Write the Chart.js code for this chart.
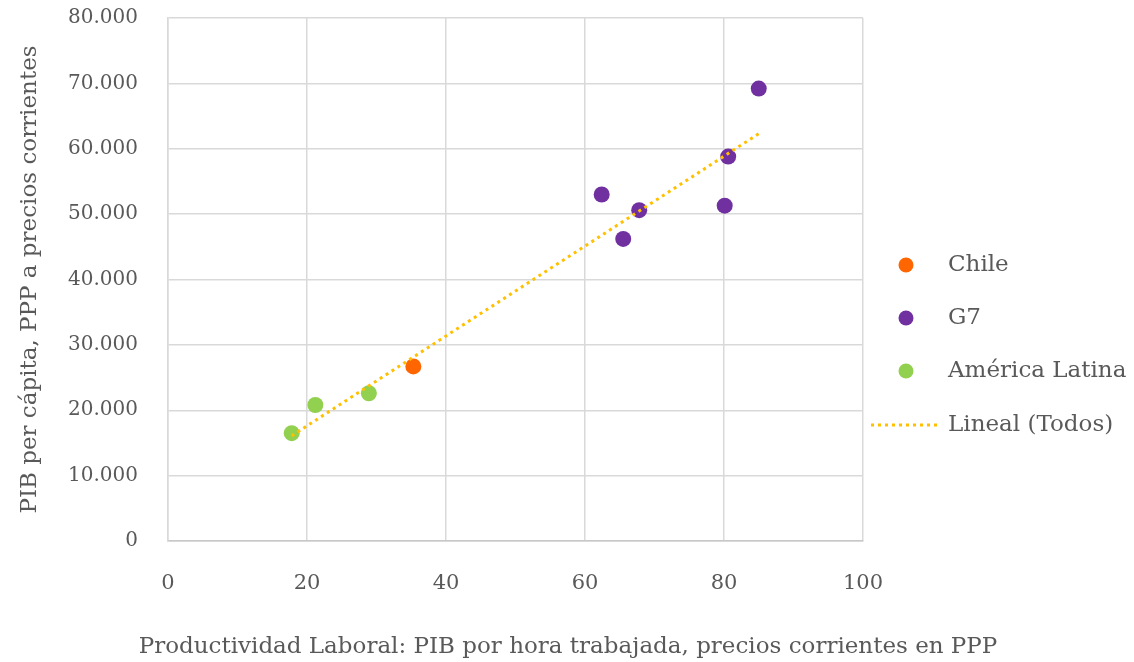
<!DOCTYPE html>
<html>
<head>
<meta charset="utf-8">
<script src="https://cdn.jsdelivr.net/npm/chart.js@4"></script>
<style>
  html, body { margin: 0; padding: 0; background: #fff; }
  #wrap { width: 1134px; height: 662px; }
</style>
</head>
<body>
<div id="wrap"><canvas id="chart"></canvas></div>
<script>
// data
const chileX = [35.3];
const chileY = [26700];
const g7X = [62.4, 65.5, 67.8, 80.1, 80.6, 85.0];
const g7Y = [53000, 46200, 50600, 51300, 58800, 69200];
const latamX = [17.8, 21.2, 28.9];
const latamY = [16500, 20800, 22600];
const trendX = [17.8, 85.0];
const trendY = [16100, 62300];
const xTicks = [0, 20, 40, 60, 80, 100];
const yTicks = [0, 10000, 20000, 30000, 40000, 50000, 60000, 70000, 80000];

const FONT = "'DejaVu Serif', serif";
const TEXT = "#595959";
const GRID = "#d9d9d9";

function pts(xs, ys) {
  return xs.map((x, i) => ({ x: x, y: ys[i] }));
}

function fmt(v) {
  return String(v).replace(/\B(?=(\d{3})+(?!\d))/g, ".");
}

// legend on the right + x axis title centred on the whole canvas
const sideLegend = {
  id: "sideLegend",
  afterDraw(chart) {
    const ctx = chart.ctx;
    const rows = [265, 318, 371, 425];
    ctx.save();
    ctx.font = "23px " + FONT;
    ctx.textBaseline = "middle";
    ctx.fillStyle = TEXT;
    chart.data.datasets.forEach((ds, i) => {
      const y = rows[i];
      if (ds.showLine) {
        ctx.strokeStyle = ds.borderColor;
        ctx.lineWidth = ds.borderWidth;
        ctx.setLineDash(ds.borderDash);
        ctx.beginPath();
        ctx.moveTo(871, y);
        ctx.lineTo(940, y);
        ctx.stroke();
        ctx.setLineDash([]);
      } else {
        ctx.fillStyle = ds.backgroundColor;
        ctx.beginPath();
        ctx.arc(906, y, 7.5, 0, Math.PI * 2);
        ctx.fill();
      }
      ctx.fillStyle = TEXT;
      ctx.textAlign = "left";
      ctx.fillText(ds.label, 948, y);
    });
    ctx.textAlign = "center";
    ctx.fillText("Productividad Laboral: PIB por hora trabajada, precios corrientes en PPP", 568, 647);
    ctx.restore();
  }
};

new Chart(document.getElementById("chart"), {
  type: "scatter",
  data: {
    datasets: [
      { label: "Chile", data: pts(chileX, chileY), backgroundColor: "#ff6600", borderWidth: 0, pointRadius: 8, order: 1 },
      { label: "G7", data: pts(g7X, g7Y), backgroundColor: "#7030a0", borderWidth: 0, pointRadius: 8, order: 1 },
      { label: "América Latina", data: pts(latamX, latamY), backgroundColor: "#92d050", borderWidth: 0, pointRadius: 8, order: 1 },
      {
        label: "Lineal (Todos)", data: pts(trendX, trendY), showLine: true,
        borderColor: "#ffc000", borderWidth: 3, borderDash: [3, 4], pointRadius: 0, order: 0
      }
    ]
  },
  options: {
    responsive: true,
    maintainAspectRatio: false,
    animation: false,
    layout: { padding: { top: 18, right: 271, bottom: 0, left: 0 } },
    plugins: { legend: { display: false }, tooltip: { enabled: false } },
    scales: {
      x: {
        type: "linear", min: 0, max: 100,
        afterBuildTicks: s => { s.ticks = xTicks.map(v => ({ value: v })); },
        afterFit: s => { s.height = 121; s.paddingLeft = 0; s.paddingRight = 0; },
        grid: { color: GRID, lineWidth: 1.5, drawTicks: false },
        border: { color: "#c8c8c8", width: 1.5 },
        ticks: { padding: 30, color: TEXT, font: { family: FONT, size: 21 } }
      },
      y: {
        type: "linear", min: 0, max: 80000,
        afterBuildTicks: s => { s.ticks = yTicks.map(v => ({ value: v })); },
        afterFit: s => { s.width = 168; s.paddingTop = 0; s.paddingBottom = 0; },
        grid: { color: GRID, lineWidth: 1.5, drawTicks: false },
        border: { color: GRID, width: 1.5 },
        ticks: { padding: 30, color: TEXT, font: { family: FONT, size: 20 }, callback: v => fmt(v) },
        title: {
          display: true, text: "PIB per cápita, PPP a precios corrientes",
          color: TEXT, font: { family: FONT, size: 23 }, padding: { top: 16, bottom: 0 }
        }
      }
    }
  },
  plugins: [sideLegend]
});
</script>
</body>
</html>
